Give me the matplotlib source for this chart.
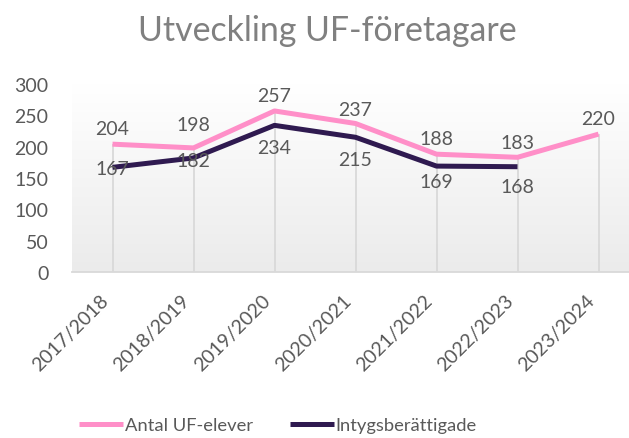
import matplotlib

matplotlib.use("Agg")
import matplotlib.pyplot as plt
import numpy as np
from matplotlib.transforms import ScaledTranslation

plt.rcParams["font.family"] = ["Lato", "DejaVu Sans"]

# data
years = ["2017/2018", "2018/2019", "2019/2020", "2020/2021",
         "2021/2022", "2022/2023", "2023/2024"]
uf_elever = [204, 198, 257, 237, 188, 183, 220]
intyg = [167, 182, 234, 215, 169, 168]

# label offsets (points) - picked by eye from the original
pink_off = [11, 17, 11, 10, 11, 11, 11]
dark_off = [-1, -2, -16, -16, -11, -14]

PINK = "#ff8fc8"
DARK = "#2f1a50"
TXT = "#595959"

fig = plt.figure(figsize=(6.29, 4.39), dpi=100)
ax = fig.add_axes([72 / 629, 1 - 273 / 439, 567 / 629, 188 / 439])

# gradient plot area, white at top -> light grey at bottom
grad = np.linspace(1.0, 0.0, 256).reshape(-1, 1)
ax.imshow(grad, extent=(-0.5, 6.5, 0, 300), aspect="auto", origin="upper",
          cmap=matplotlib.colors.LinearSegmentedColormap.from_list(
              "g", ["#ebebeb", "#ffffff"]), zorder=0)

x_uf = np.arange(len(uf_elever))
x_in = np.arange(len(intyg))
tops = [max(a, b) for a, b in zip(uf_elever, intyg + [0])]
ax.vlines(x_uf, 0, tops, color="#d9d9d9", lw=1.3, zorder=1)

ax.plot(x_uf, uf_elever, color=PINK, lw=3.6, label="Antal UF-elever",
        solid_capstyle="butt", zorder=3)
ax.plot(x_in, intyg, color=DARK, lw=3.6, label="Intygsberättigade",
        solid_capstyle="butt", zorder=3)

for x, v, o in zip(x_uf, uf_elever, pink_off):
    ax.annotate(str(v), (x, v), xytext=(0, o), textcoords="offset points",
                ha="center", va="center", fontsize=14, color=TXT, zorder=4)
for x, v, o in zip(x_in, intyg, dark_off):
    ax.annotate(str(v), (x, v), xytext=(0, o), textcoords="offset points",
                ha="center", va="center", fontsize=14, color=TXT, zorder=4)

ax.set_xlim(-0.5, 6.5)
ax.set_ylim(0, 300)
ax.set_yticks(range(0, 301, 50))
ax.set_xticks(x_uf)
ax.set_xticklabels(years, rotation=45, ha="right", rotation_mode="anchor")
ax.tick_params(axis="y", length=0, pad=17, labelsize=14, labelcolor=TXT)
ax.tick_params(axis="x", length=0, pad=14, labelsize=14, labelcolor=TXT)
shift = ScaledTranslation(-9 / 72, 0, fig.dpi_scale_trans)
for lbl in ax.get_xticklabels():
    lbl.set_transform(lbl.get_transform() + shift)
for s in ("top", "right", "left"):
    ax.spines[s].set_visible(False)
ax.spines["bottom"].set_color("#d9d9d9")
ax.spines["bottom"].set_linewidth(1.3)

fig.text(327 / 629, 1 - 31 / 439, "Utveckling UF-företagare", ha="center",
         va="center", fontsize=24.4, color="#808080")

fig.legend(loc="center", bbox_to_anchor=(278 / 629, 1 - 426 / 439), ncol=2,
           frameon=False, fontsize=13.2, labelcolor=TXT, handlelength=2.4,
           handletextpad=0.1, columnspacing=2.0)

fig.savefig("out.png", dpi=100)
